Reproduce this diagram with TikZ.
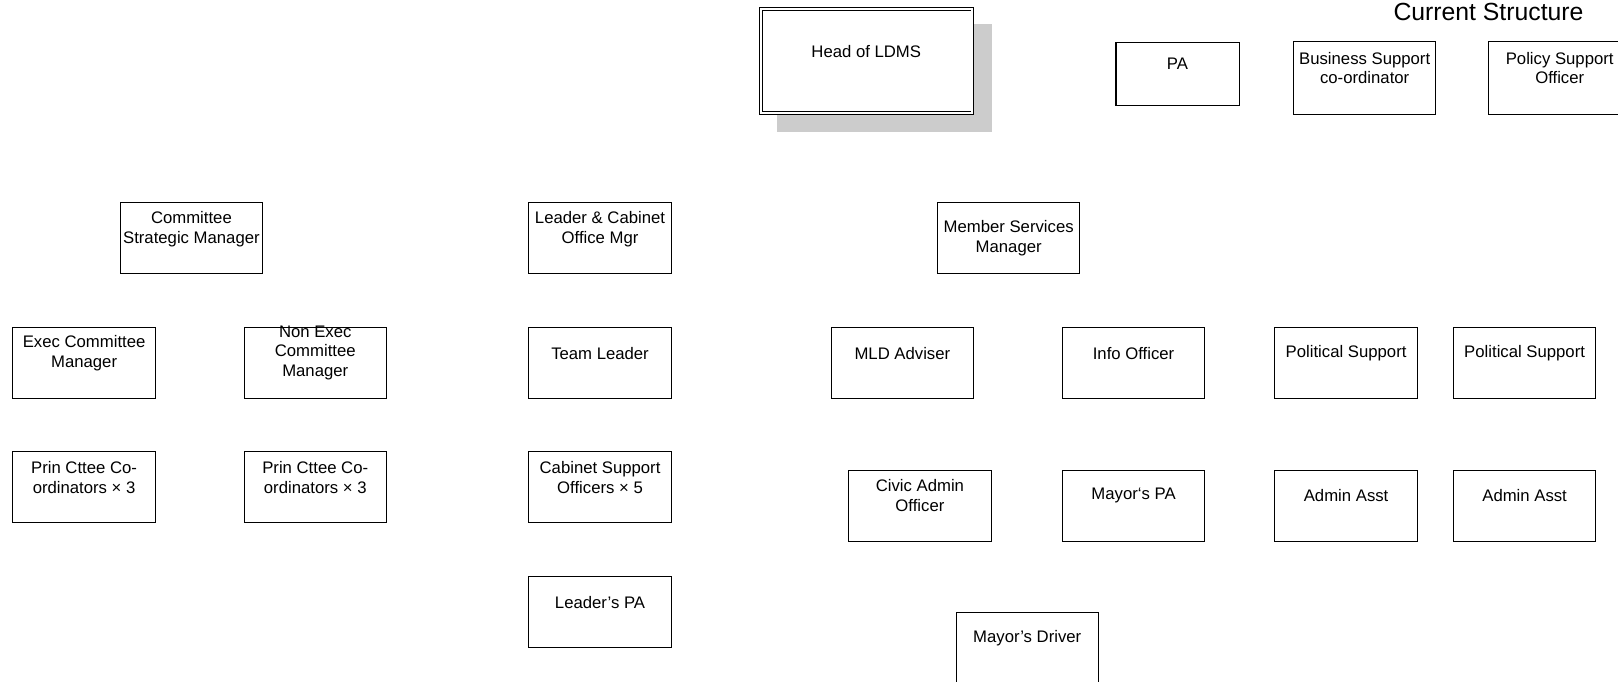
\documentclass[tikz,border=0pt]{standalone}
\usepackage{fontspec}
\setmainfont{Liberation Sans}
\begin{document}
\begin{tikzpicture}[x=1pt,y=-1pt,
  bx/.style={draw=black,line width=1pt,fill=white,minimum width=138pt,minimum height=69pt,inner sep=0pt,anchor=north west},
  tx/.style={font=\fontsize{16.2}{19}\selectfont,align=center,inner sep=0pt,anchor=center,yshift=-1.5pt},
  shadowbox/.style={fill=black!20,draw=none}]
\useasboundingbox (0,0) rectangle (1568,660);
\clip (0,0) rectangle (1568,660);
% title
\node[font=\fontsize{24}{28}\selectfont,inner sep=0pt,anchor=base] (title) at (1442.5,19.5) {Current Structure};
% head
\fill[shadowbox] (753,23) rectangle (961,128);
\node[bx,minimum width=205pt,minimum height=101pt,double,double distance=2pt,line width=0.8pt] (head) at (737,8) {};
\node[tx] (head-t) at (839.5,48) {Head of LDMS};
% top row
\node[bx,minimum width=120pt,minimum height=61pt] (pa) at (1081,41) {};
\node[tx] (pa-t) at (1141,60) {PA};
\node[bx,minimum height=70pt] (bsc) at (1253,40) {};
\node[tx] (bsc-t) at ([yshift=-24.5pt]bsc.north) {Business Support\\co-ordinator};
\node[bx,minimum height=70pt] (pso) at (1442,40) {};
\node[tx] (pso-t) at ([yshift=-24.5pt]pso.north) {Policy Support\\Officer};
% managers
\node[bx] (csm) at (116,196) {};
\node[tx] (csm-t) at ([yshift=-24.5pt]csm.north) {Committee\\Strategic Manager};
\node[bx] (lco) at (512,196) {};
\node[tx] (lco-t) at ([yshift=-24.5pt]lco.north) {Leader \& Cabinet\\Office Mgr};
\node[bx] (msm) at (908,196) {};
\node[tx] (msm-t) at ([yshift=-33.5pt]msm.north) {Member Services\\Manager};
% second row
\node[bx] (ecm) at (12,317) {};
\node[tx] (ecm-t) at ([yshift=-23.5pt]ecm.north) {Exec Committee\\Manager};
\node[bx] (necm) at (236,317) {};
\node[tx] (necm-t) at ([yshift=-23.5pt]necm.north) {Non Exec\\Committee\\Manager};
\node[bx] (tl) at (512,317) {};
\node[tx] (tl-t) at ([yshift=-24pt]tl.north) {Team Leader};
\node[bx] (mld) at (805,317) {};
\node[tx] (mld-t) at ([yshift=-24pt]mld.north) {MLD Adviser};
\node[bx] (info) at (1029,317) {};
\node[tx] (info-t) at ([yshift=-24pt]info.north) {Info Officer};
\node[bx] (ps1) at (1235,317) {};
\node[tx] (ps1-t) at ([yshift=-24pt]ps1.north) {Political Support};
\node[bx] (ps2) at (1408,317) {};
\node[tx] (ps2-t) at ([yshift=-24pt]ps2.north) {Political Support};
% third row
\node[bx] (pcc1) at (12,437) {};
\node[tx] (pcc1-t) at ([yshift=-24.5pt]pcc1.north) {Prin Cttee Co-\\ordinators × 3};
\node[bx] (pcc2) at (236,437) {};
\node[tx] (pcc2-t) at ([yshift=-24.5pt]pcc2.north) {Prin Cttee Co-\\ordinators × 3};
\node[bx] (cso) at (512,437) {};
\node[tx] (cso-t) at ([yshift=-24.5pt]cso.north) {Cabinet Support\\Officers × 5};
\node[bx] (cao) at (822,455) {};
\node[tx] (cao-t) at ([yshift=-23.5pt]cao.north) {Civic Admin\\Officer};
\node[bx] (mpa) at (1029,455) {};
\node[tx] (mpa-t) at ([yshift=-24pt]mpa.north) {Mayor‘s PA};
\node[bx] (aa1) at (1235,455) {};
\node[tx] (aa1-t) at ([yshift=-24pt]aa1.north) {Admin Asst};
\node[bx] (aa2) at (1408,455) {};
\node[tx] (aa2-t) at ([yshift=-24pt]aa2.north) {Admin Asst};
% bottom
\node[bx] (lpa) at (512,558) {};
\node[tx] (lpa-t) at ([yshift=-24pt]lpa.north) {Leader’s PA};
\node[bx] (md) at (926,593) {};
\node[tx] (md-t) at ([yshift=-24pt]md.north) {Mayor’s Driver};
\end{tikzpicture}
\end{document}
